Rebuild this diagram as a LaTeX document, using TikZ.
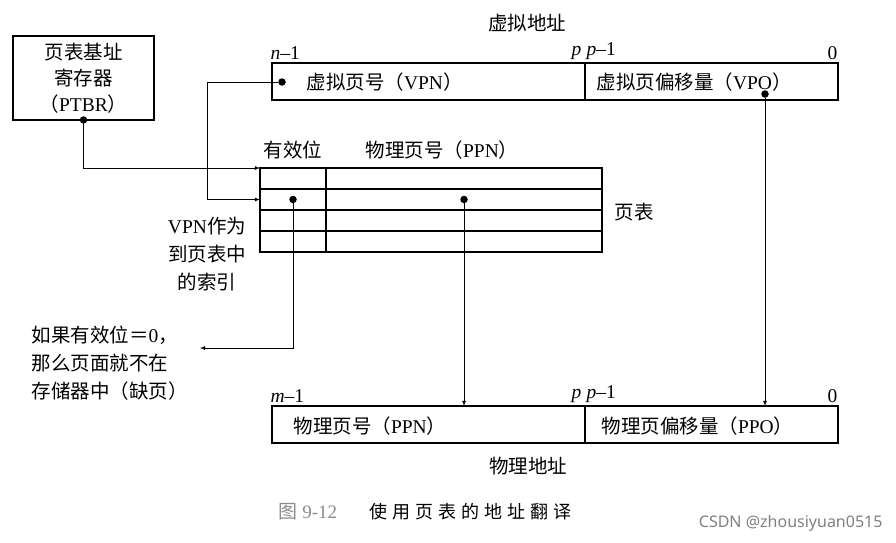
\documentclass[tikz,border=0pt]{standalone}
\usepackage{fontspec}
\setmainfont{Liberation Serif}
\newfontfamily\cjk{Noto Sans CJK SC}
\newfontfamily\cjkwide[LetterSpace=28]{Noto Sans CJK SC}
\newfontfamily\markfont{Noto Sans}
\newcommand{\zh}[1]{{\cjk #1}}
\usetikzlibrary{positioning}

\begin{document}
\begin{tikzpicture}[>=latex, x=1pt, y=-1pt,
  font=\fontsize{19.5}{26}\selectfont,
  box/.style={draw, line width=1.3pt, inner sep=0pt, outer sep=0pt, minimum height=37},
  cell/.style={draw, line width=1.3pt, inner sep=0pt, outer sep=0pt, minimum height=21},
  dot/.style={circle, fill, inner sep=0pt, minimum size=7.5pt},
  link/.style={->, line width=0.8pt}]
\useasboundingbox (0,0) rectangle (896,542);
% Page table base register
\node[draw, line width=1.3pt, outer sep=0pt, minimum width=141, minimum height=84, anchor=north west, align=center] (ptbr) at (13,36)
  {\zh{页表基址}\\\zh{寄存器}\\\zh{（}PTBR\zh{）}};
\node[dot] (ptbrdot) at (ptbr.south) {};
% Virtual address
\node (vatitle) at (527,23) {\zh{虚拟地址}};
\node[box, minimum width=313, anchor=north west] (vpn) at (272,63) {};
\node[box, minimum width=253, anchor=west] (vpo) at (vpn.east) {};
\node[right] (vpntext) at (303,82) {\zh{虚拟页号（}VPN\zh{）}};
\node[right] (vpotext) at (593,82) {\zh{虚拟页偏移量（}VPO\zh{）}};
\node[above right=0pt and -5pt of vpn.north west] (vn) {\textit{n}–1};
\node[above left=0pt and 0pt of vpn.north east] (vp) {\textit{p}};
\node[above right=0pt and -2pt of vpo.north west] (vp1) {\textit{p}–1};
\node[above left=0pt and -3pt of vpo.north east] (v0) {0};
\node[dot] (vpndot) at (282,82) {};
\node[dot] (vpodot) at (765,94) {};
% Page table
\foreach \i in {0,...,3} {
  \node[cell, minimum width=66, anchor=north west] (r\i) at (260,{168+21*\i}) {};
  \node[cell, minimum width=276, anchor=west] (e\i) at (r\i.east) {};
}
\node (validlabel) at (293,150) {\zh{有效位}};
\node (ppnlabel) at (442,150) {\zh{物理页号（}PPN\zh{）}};
\node (ptlabel) at (634,212) {\zh{页表}};
\node[align=center, font=\fontsize{19.5}{28}\selectfont] (index) at (207,254) {VPN\zh{作为}\\\zh{到页表中}\\\zh{的索引}};
\node[dot] (validdot) at (r1.center) {};
\node[dot] (ppndot) at (e1.center) {};
% Page fault note
\node[align=left, anchor=north west, font=\fontsize{19.5}{28}\selectfont] (miss) at (28,322)
  {\zh{如果有效位＝}0\zh{，}\\\zh{那么页面就不在}\\\zh{存储器中（缺页）}};
\coordinate (misstip) at (200,348);
% Physical address
\node[box, minimum width=313, anchor=north west] (ppn) at (272,406) {};
\node[box, minimum width=253, anchor=west] (ppo) at (ppn.east) {};
\node[right] (ppntext) at (290,426) {\zh{物理页号（}PPN\zh{）}};
\node[right] (ppotext) at (598,426) {\zh{物理页偏移量（}PPO\zh{）}};
\node[above right=0pt and -5pt of ppn.north west] (pm) {\textit{m}–1};
\node[above left=0pt and 0pt of ppn.north east] (pp) {\textit{p}};
\node[above right=0pt and -2pt of ppo.north west] (pp1) {\textit{p}–1};
\node[above left=0pt and -3pt of ppo.north east] (p0) {0};
\node (patitle) at (528,466) {\zh{物理地址}};
% Caption
\node[anchor=west, text=black!45, font=\fontsize{19}{22}\selectfont] (capnum) at (275,512) {\zh{图} 9-12};
\node[anchor=west, font=\fontsize{18}{22}\selectfont] (captext) at (366,512) {\cjkwide 使用页表的地址翻译};
\node[anchor=east, text=black!50, font=\markfont\fontsize{16}{18}\selectfont] (mark) at (886,523) {CSDN @zhousiyuan0515};
% Connectors
\draw[link] (ptbrdot) |- (r0.north west);
\draw[link] (vpndot) -- ++(-75,0) |- (r1.west);
\draw[link] (validdot) |- (misstip);
\draw[link] (ppndot) -- (ppndot |- ppn.north);
\draw[link] (vpodot) -- (vpodot |- ppo.north);
\end{tikzpicture}
\end{document}
